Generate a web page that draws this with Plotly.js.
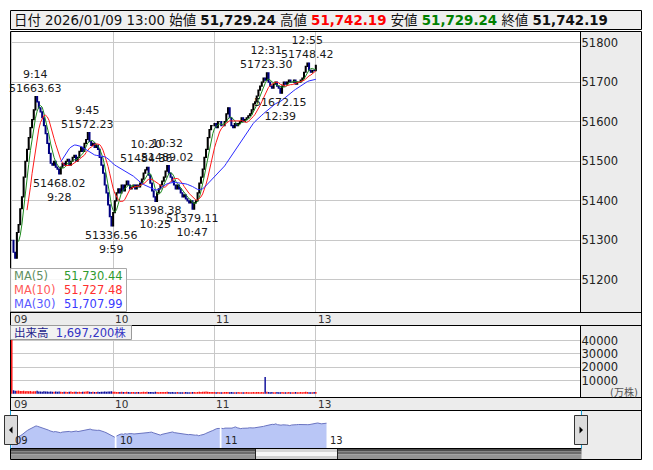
<!DOCTYPE html>
<html><head><meta charset="utf-8">
<script src="https://cdn.plot.ly/plotly-3.0.1.min.js"></script>
<style>html,body{margin:0;padding:0;background:#fff}#chart{width:653px;height:470px}</style>
</head><body><div id="chart"></div>
<script>
// ---- data (1-minute closes, 09:00 .. 11:30 then 12:30 .. 13:00) ----
const closes = [
51300,51270,51255,51320,51340,51380,51410,51460,51500,51530,
51560,51585,51605,51630,51663.63,51650,51635,51625,51610,51590,
51570,51545,51520,51495,51490,51500,51485,51480,51468.02,51485,
51495,51490,51500,51505,51490,51500,51510,51515,51500,51510,
51525,51535,51525,51545,51555,51572.23,51550,51540,51545,51535,
51540,51530,51510,51490,51470,51440,51420,51390,51360,51336.56,
51370,51400,51420,51430,51420,51440,51425,51440,51450,51440,
51430,51435,51440,51430,51440,51435,51445,51455,51470,51478,
51484.36,51465,51445,51425,51410,51398.38,51420,51430,51440,51450,
51460,51475,51489.02,51470,51460,51450,51440,51430,51440,51430,
51420,51410,51415,51405,51400,51395,51400,51379.11,51395,51400,
51420,51445,51460,51480,51510,51530,51560,51580,51590,51590,
51595,51585,51600,51600,51590,51590,51600,51620,51635,51610,
51590,51585,51595,51590,51595,51600,51610,51600,51605,51610,
51615,51620,51630,51645,51650,51665,51680,51690,51700,51710,
51705,51723.30,51700,51690,51685,51695,51700,51690,51685,51672.15,
51690,51700,51695,51700,51705,51700,51700,51705,51695,51700,
51700,51705,51710,51725,51740,51748.42,51730,51725,51730,51729.24,
51742.19
];
const volumes = [
40500,
2600,2400,2300,2500,2200,2100,2300,2000,2200,1900,
2100,1800,2000,1900,2300,1700,1800,1600,1900,1700,
1800,1600,1700,1500,1600,1800,1500,1700,1600,1400,
1500,1600,1400,1500,1700,1400,1500,1600,1300,1500,
1400,1600,1500,1700,1900,1500,1400,1500,1300,1400,
1500,1400,1600,1500,1700,1600,1800,1700,1900,1600,
1500,1400,1300,1400,1500,1300,1400,1500,1300,1200,
1300,1400,1200,1300,1400,1200,1300,1500,1400,1600,
1300,1400,1300,1200,1500,1300,1200,1300,1400,1300,
1400,1500,1300,1200,1300,1200,1100,1300,1200,1100,
1200,1100,1300,1200,1100,1200,1400,1300,1200,1400,
1500,1400,1600,1500,1700,1600,1400,1300,1400,1300,
1200,1300,1200,1100,1200,1300,1400,1300,1200,1300,
1200,1100,1200,1300,1100,1200,1100,1200,1300,1200,
1100,1200,1300,1200,1400,1300,1200,1300,1200,12600,
1500,1300,1200,1300,1100,1200,1300,1100,1200,1300,
1100,1200,1100,1300,1200,1100,1200,1300,1100,1200,
1300,1200,1400,1500,1300,1200,1100,1200,1300,1400
];
const hourTicks = [0, 60, 120, 180];
const hourLabels = ['09', '10', '11', '13'];
const priceTicks = [51200, 51300, 51400, 51500, 51600, 51700, 51800];
const volumeTicks = [10000, 20000, 30000, 40000];
const extremeTimes  = ['9:14', '9:45', '10:20', '10:32', '12:31', '12:55', '9:28', '9:59', '10:25', '10:47', '12:39'];
const extremeValues = [51663.63, 51572.23, 51484.36, 51489.02, 51723.30, 51748.42, 51468.02, 51336.56, 51398.38, 51379.11, 51672.15];
const extremeKinds  = ['high', 'high', 'high', 'high', 'high', 'high', 'low', 'low', 'low', 'low', 'low'];
const maPeriods = [5, 10, 30];
const maNames = ['MA(5)', 'MA(10)', 'MA(30)'];
const maLegendValues = ['51,730.44', '51,727.48', '51,707.99'];
const headerDate = '2026/01/09 13:00';
const headerOpen = '51,729.24', headerHigh = '51,742.19', headerLow = '51,729.24', headerClose = '51,742.19';
const totalVolume = '1,697,200';

// ---- helpers ----
const W = 653, H = 470;
const px = x => x / W, py = y => 1 - y / H;
const FONT = 'DejaVu Sans, Noto Sans CJK JP, sans-serif';
function timeIndex(t) {
  const [h, m] = t.split(':').map(Number);
  const mins = h * 60 + m;
  return mins <= 690 ? mins - 540 : 150 + (mins - 750);
}
const idx = closes.map((_, i) => i);
const opens = closes.map((c, i) => i === 0 ? c : closes[i - 1]);
const highs = closes.map((c, i) => Math.max(c, opens[i]));
const lows = closes.map((c, i) => Math.min(c, opens[i]));
function movingAvg(arr, n) {
  return arr.map((_, i) => {
    if (i < n - 1) return null;
    let s = 0; for (let k = i - n + 1; k <= i; k++) s += arr[k];
    return s / n;
  });
}
const maColors = ['#1e8a1e', '#ff1a1a', '#2a2aff'];
const maLabelColors = ['#5f8f5f', '#ff5a5a', '#5a5aff'];
const maValueColors = ['#2e9a2e', '#ff3030', '#3a3aff'];
const volColors = closes.map((c, i) => (i === 0 || c >= closes[i - 1]) ? '#ff1010' : '#0a0a9a');

const traces = [];
traces.push({
  type: 'candlestick', x: idx, open: opens, high: highs, low: lows, close: closes,
  xaxis: 'x', yaxis: 'y',
  increasing: {line: {color: '#000000', width: 1.2}, fillcolor: '#000000'},
  decreasing: {line: {color: '#000080', width: 1.2}, fillcolor: '#000080'},
  hoverinfo: 'skip'
});
maPeriods.forEach((p, k) => {
  traces.push({type: 'scatter', mode: 'lines', x: idx, y: movingAvg(closes, p),
    xaxis: 'x', yaxis: 'y', line: {color: maColors[k], width: 1}, hoverinfo: 'skip'});
});
traces.push({type: 'bar', x: idx, y: volumes, xaxis: 'x2', yaxis: 'y2', width: 0.85,
  marker: {color: volColors, line: {width: 0}}, hoverinfo: 'skip'});
// navigator: one area per session hour block
const navSegments = [[0, 60], [60, 120], [120, closes.length]];
navSegments.forEach(([a, b]) => {
  traces.push({type: 'scatter', mode: 'lines', x: idx.slice(a, b), y: closes.slice(a, b),
    xaxis: 'x3', yaxis: 'y3', fill: 'tozeroy', fillcolor: '#b9c6f6',
    line: {color: '#6a74c0', width: 1}, hoverinfo: 'skip'});
});

// ---- shapes ----
const shapes = [];
function rect(x0, y0, x1, y1, fill, line, layer) {
  shapes.push({type: 'rect', xref: 'paper', yref: 'paper', x0: px(x0), x1: px(x1), y0: py(y1), y1: py(y0),
    fillcolor: fill || 'rgba(0,0,0,0)', line: {color: line || 'rgba(0,0,0,0)', width: line ? 1 : 0}, layer: layer || 'below'});
}
function seg(x0, y0, x1, y1, color, layer) {
  shapes.push({type: 'line', xref: 'paper', yref: 'paper', x0: px(x0), x1: px(x1), y0: py(y0), y1: py(y1),
    line: {color: color, width: 1}, layer: layer || 'above'});
}
function tri(points, color) {
  const d = points.map((p, i) => (i ? 'L' : 'M') + px(p[0]) + ',' + py(p[1])).join(' ') + ' Z';
  shapes.push({type: 'path', xref: 'paper', yref: 'paper', path: d, fillcolor: color, line: {color: color, width: 0}, layer: 'above'});
}
// header box
rect(10.5, 10.5, 641.5, 29.5, '#efefef', '#000000', 'below');
// gray panels
rect(580.5, 31, 641, 460, '#ececec', null, 'below');
rect(10.5, 312, 641, 325, '#ececec', null, 'below');
rect(10.5, 397, 641, 410, '#ececec', null, 'below');
// scrollbar
rect(10.5, 448.5, 581.5, 451.5, '#4e4e4e', null, 'above');
rect(10.5, 451.5, 581.5, 454.5, '#6c6c6c', null, 'above');
rect(10.5, 454.5, 581.5, 459.5, '#949494', null, 'above');
rect(255.5, 448.5, 337.5, 452, '#d6d6d6', null, 'above');
rect(255.5, 452, 337.5, 456, '#f6f6f6', null, 'above');
rect(255.5, 456, 337.5, 459.5, '#d0d0d0', null, 'above');
seg(255.5, 448.5, 255.5, 459.5, '#222');
seg(337.5, 448.5, 337.5, 459.5, '#222');
seg(10.5, 448.5, 581.5, 448.5, '#000');
// borders
seg(10.5, 31.5, 641.5, 31.5, '#000');
seg(10.5, 31.5, 10.5, 459.5, '#000');
seg(641.5, 31.5, 641.5, 459.5, '#000');
seg(10.5, 459.5, 641.5, 459.5, '#000');
seg(10.5, 312.5, 641.5, 312.5, '#000');
seg(10.5, 325.5, 641.5, 325.5, '#000');
seg(10.5, 397.5, 641.5, 397.5, '#000');
seg(10.5, 410.5, 641.5, 410.5, '#000');
seg(580.5, 31.5, 580.5, 312.5, '#000');
seg(580.5, 325.5, 580.5, 397.5, '#000');
// navigator selection edges
seg(10.5, 410.5, 10.5, 448.5, '#1aa0d8');
seg(581.5, 410.5, 581.5, 448.5, '#1aa0d8');
// scroll buttons
rect(4.5, 415.5, 17.5, 444.5, '#dcdcdc', '#333333', 'above');
rect(574.5, 415.5, 587.5, 444.5, '#dcdcdc', '#333333', 'above');
tri([[9, 430], [12.5, 426.5], [12.5, 433.5]], '#000');
tri([[583, 430], [579.5, 426.5], [579.5, 433.5]], '#000');
// MA legend box and volume label box
rect(10.5, 268.5, 126.5, 311.5, 'rgba(255,255,255,0.85)', '#a8a8a8', 'above');
rect(10.5, 325.5, 131.5, 339.5, '#f2f2f2', '#9a9a9a', 'above');

// ---- annotations ----
const ann = [];
ann.push({xref: 'paper', yref: 'paper', x: px(12), y: py(20.5), xanchor: 'left', yanchor: 'middle', showarrow: false,
  font: {family: FONT, size: 13.4, color: '#111'},
  text: '日付 ' + headerDate + ' 始値 <b>' + headerOpen + '</b> 高値 <b><span style="color:#ff0000">' + headerHigh +
        '</span></b> 安値 <b><span style="color:#008000">' + headerLow + '</span></b> 終値 <b>' + headerClose + '</b>'});
hourTicks.forEach((t, i) => {
  ann.push({xref: 'x', yref: 'paper', x: t, y: py(318.5), xanchor: 'left', yanchor: 'middle', xshift: 0, showarrow: false,
    text: hourLabels[i], font: {family: FONT, size: 10.5, color: '#333'}});
  ann.push({xref: 'x2', yref: 'paper', x: t, y: py(403.5), xanchor: 'left', yanchor: 'middle', xshift: 0, showarrow: false,
    text: hourLabels[i], font: {family: FONT, size: 10.5, color: '#333'}});
  ann.push({xref: 'x3', yref: 'paper', x: t, y: py(440), xanchor: 'left', yanchor: 'middle', xshift: 1, showarrow: false,
    text: hourLabels[i], font: {family: FONT, size: 10, color: '#222'}});
});
extremeTimes.forEach((t, i) => {
  const v = extremeValues[i].toFixed(2);
  const high = extremeKinds[i] === 'high';
  ann.push({xref: 'x', yref: 'y', x: timeIndex(t), y: extremeValues[i], showarrow: false,
    xanchor: 'center', yanchor: high ? 'bottom' : 'top', yshift: high ? 0 : -1,
    text: high ? (t + '<br>' + v) : (v + '<br>' + t),
    font: {family: FONT, size: 11, color: '#1a1a1a'}});
});
maNames.forEach((n, k) => {
  const y = [276, 290, 303.5][k];
  ann.push({xref: 'paper', yref: 'paper', x: px(11.5), y: py(y), xanchor: 'left', yanchor: 'middle', showarrow: false,
    text: n, font: {family: FONT, size: 11.5, color: maLabelColors[k]}});
  ann.push({xref: 'paper', yref: 'paper', x: px(125.5), y: py(y), xanchor: 'right', yanchor: 'middle', showarrow: false,
    text: maLegendValues[k], font: {family: FONT, size: 11.5, color: maValueColors[k]}});
});
ann.push({xref: 'paper', yref: 'paper', x: px(11.5), y: py(332.5), xanchor: 'left', yanchor: 'middle', showarrow: false,
  text: '<span style="color:#23238c">出来高</span>  ' + totalVolume + '株', font: {family: FONT, size: 11.5, color: '#3434c4'}});
ann.push({xref: 'paper', yref: 'paper', x: px(640), y: py(391.5), xanchor: 'right', yanchor: 'middle', showarrow: false,
  text: '(万株)', font: {family: FONT, size: 10, color: '#555'}});

const gridC = '#c8c8c8';
const xDom = [px(10.5), px(580.5)];
const xRange = [-0.77, 336.7];
const layout = {
  width: W, height: H, margin: {l: 0, r: 0, t: 0, b: 0, pad: 0},
  paper_bgcolor: '#ffffff', plot_bgcolor: '#ffffff', showlegend: false, hovermode: false,
  xaxis: {domain: xDom, anchor: 'y', range: xRange, tickvals: hourTicks, showticklabels: false, ticks: '',
    showgrid: true, gridcolor: gridC, gridwidth: 1, zeroline: false, showline: false, rangeslider: {visible: false}, fixedrange: true},
  yaxis: {domain: [py(312), py(31.5)], anchor: 'x', side: 'right', range: [51119, 51828], tickvals: priceTicks, tickformat: 'd',
    ticks: '', showgrid: true, gridcolor: gridC, zeroline: false, showline: false,
    tickfont: {family: FONT, size: 11.5, color: '#222'}, fixedrange: true},
  xaxis2: {domain: xDom, anchor: 'y2', range: xRange, tickvals: hourTicks, showticklabels: false, ticks: '',
    showgrid: true, gridcolor: gridC, zeroline: false, showline: false, fixedrange: true},
  yaxis2: {domain: [py(397), py(325.5)], anchor: 'x2', side: 'right', range: [-2390, 51340], tickvals: volumeTicks, tickformat: 'd',
    ticks: '', showgrid: true, gridcolor: gridC, zeroline: false, showline: false,
    tickfont: {family: FONT, size: 11.5, color: '#222'}, fixedrange: true},
  xaxis3: {domain: [px(10.5), px(581.5)], anchor: 'y3', range: [-0.57, 325.7], showticklabels: false, ticks: '',
    showgrid: false, zeroline: false, showline: false, fixedrange: true},
  yaxis3: {domain: [py(448.5), py(410.5)], anchor: 'x3', range: [51010, 52110], showticklabels: false, ticks: '',
    showgrid: false, zeroline: false, showline: false, fixedrange: true},
  shapes: shapes, annotations: ann
};
Plotly.newPlot('chart', traces, layout, {staticPlot: true, displayModeBar: false});
</script>
</body></html>
